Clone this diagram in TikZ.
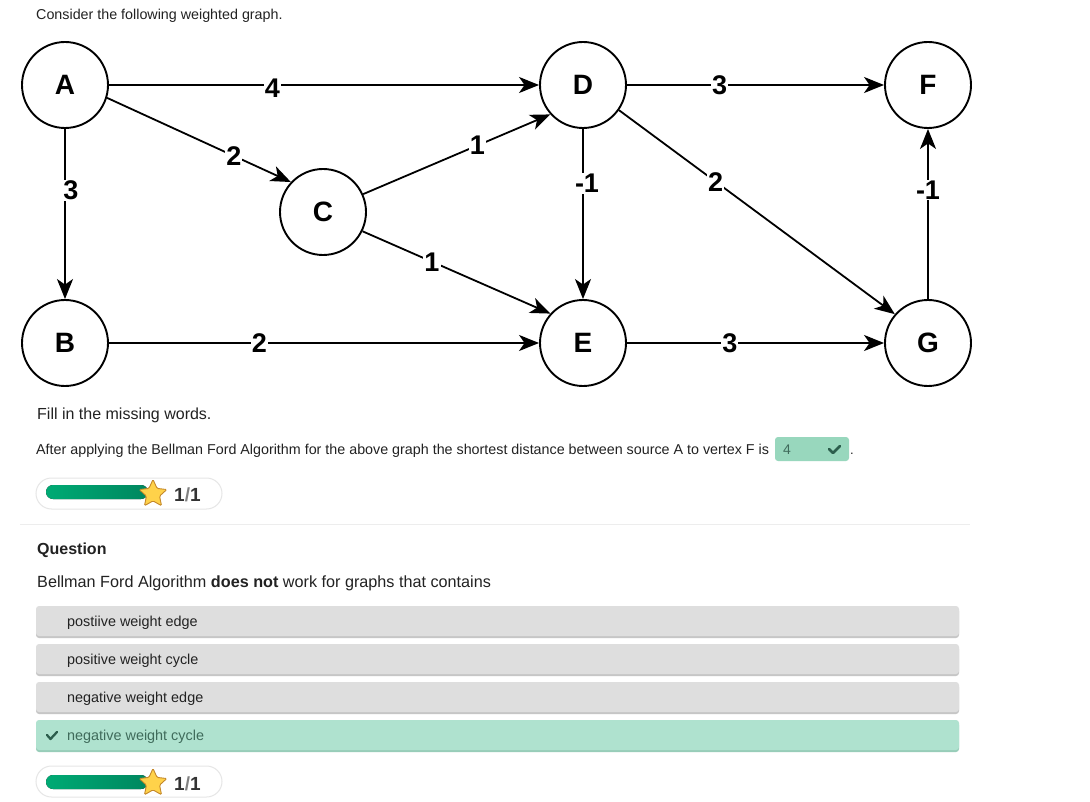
\documentclass[tikz,border=0pt]{standalone}
\usepackage{fontspec}
\setmainfont{Liberation Sans}
\usetikzlibrary{arrows.meta,shapes.geometric}
\definecolor{txt}{HTML}{222222}
\definecolor{ansbg}{HTML}{98D7BD}
\definecolor{ansfg}{HTML}{3F6B5B}
\definecolor{optbg}{HTML}{DEDEDE}
\definecolor{optsh}{HTML}{C6C6C6}
\definecolor{rightbg}{HTML}{AFE2CF}
\definecolor{rightsh}{HTML}{98CDB9}
\definecolor{checkc}{HTML}{2C5E4D}
\definecolor{barL}{HTML}{00AA74}
\definecolor{barR}{HTML}{00875F}
\definecolor{starfill}{HTML}{FFD24A}
\definecolor{staredge}{HTML}{C4882A}
\definecolor{pillline}{HTML}{E6E6E6}
\definecolor{sepline}{HTML}{EDEDED}
\tikzset{
  vertex/.style={circle, draw, line width=1.9pt, minimum size=86pt, inner sep=0pt,
    font=\fontsize{28}{32}\selectfont\bfseries},
  edge/.style={line width=1.8pt, -{Stealth[length=20pt,width=16pt,inset=5.5pt]}},
  wlabel/.style={fill=white, inner sep=1pt, font=\fontsize{27}{30}\selectfont\bfseries},
  plain/.style={anchor=base west, inner sep=0pt, text=txt},
  optbox/.style={fill=optbg, rounded corners=3pt},
  opttext/.style={anchor=base west, inner sep=0pt, text=txt, font=\fontsize{14.4}{17}\selectfont},
  pill/.style={draw=pillline, line width=1pt, fill=white, rounded corners=15.5pt},
  starmark/.style={star, star points=5, star point ratio=2.1, fill=starfill, draw=staredge,
    line width=0.9pt, minimum size=29pt, inner sep=0pt, rounded corners=1.2pt},
  checkmk/.style={line width=2.6pt, line cap=round, line join=round}
}
\begin{document}
\begin{tikzpicture}[x=1pt,y=-1pt]
\useasboundingbox (0,0) rectangle (1090,802);
\fill[white] (0,0) rectangle (1090,802);

% heading
\node[plain, font=\fontsize{14.3}{16}\selectfont] (head) at (36,20) {Consider the following weighted graph.};

% vertices
\node[vertex] (A) at (65,85) {A};
\node[vertex] (B) at (65,343) {B};
\node[vertex] (C) at (323,212) {C};
\node[vertex] (D) at (583,85) {D};
\node[vertex] (E) at (583,343) {E};
\node[vertex] (F) at (928,85) {F};
\node[vertex] (G) at (928,343) {G};

% weighted edges
\draw[edge] (A) -- node[wlabel, pos=0.38, yshift=-3pt] {4} (D);
\draw[edge] (A.-17) -- node[wlabel, pos=0.69] {2} (C.137);
\draw[edge] (A) -- node[wlabel, pos=0.36, xshift=6pt] {3} (B);
\draw[edge] (C.24) -- node[wlabel, pos=0.61] {1} (D.222);
\draw[edge] (C.-26) -- node[wlabel, pos=0.37] {1} (E.138);
\draw[edge] (D) -- node[wlabel, pos=0.32, xshift=4pt] {-1} (E);
\draw[edge] (D) -- node[wlabel, pos=0.36] {3} (F);
\draw[edge] (D.-35) -- node[wlabel, pos=0.35] {2} (G.139);
\draw[edge] (G) -- node[wlabel, pos=0.64] {-1} (F);
\draw[edge] (B) -- node[wlabel, pos=0.35] {2} (E);
\draw[edge] (E) -- node[wlabel, pos=0.40] {3} (G);

% fill-in question
\node[plain, font=\fontsize{16}{18}\selectfont] (fill) at (37,419) {Fill in the missing words.};
\node[plain, font=\fontsize{14.3}{16}\selectfont] (after) at (36,454)
  {After applying the Bellman Ford Algorithm for the above graph the shortest distance between source A to vertex F is};
\fill[ansbg, rounded corners=3pt] (775,437) rectangle (849,461);
\node[plain, text=ansfg, font=\fontsize{14}{16}\selectfont] (ans) at (783,454) {4};
\draw[checkmk, draw=checkc] (829,449) -- (833,453) -- (840,446);
\node[plain, font=\fontsize{13}{15}\selectfont] (dot) at (850,454) {.};

% score pill 1
\draw[pill] (36,478) rectangle (222,509);
\fill[left color=barL, right color=barR, rounded corners=7pt] (46,485) rectangle (148,499);
\node[starmark] (s1) at (153,494) {};
\node[plain, font=\fontsize{19}{21}\selectfont\bfseries, text=black!80] (sc1) at (174,501) {1\textcolor{black!50}{/}1};

\draw[sepline, line width=1pt] (20,524) -- (970,524);

% multiple choice question
\node[plain, font=\fontsize{16}{18}\selectfont\bfseries] (qh) at (37,554) {Question};
\node[plain, font=\fontsize{16.2}{18}\selectfont] (qt) at (37,587) {Bellman Ford Algorithm \textbf{does not} work for graphs that contains};

\fill[optsh, rounded corners=3pt] (36,608) rectangle (959,638);
\fill[optbox] (36,606) rectangle (959,636);
\node[opttext] (o1) at (67,626) {postiive weight edge};

\fill[optsh, rounded corners=3pt] (36,646) rectangle (959,676);
\fill[optbox] (36,644) rectangle (959,674);
\node[opttext] (o2) at (67,664) {positive weight cycle};

\fill[optsh, rounded corners=3pt] (36,684) rectangle (959,714);
\fill[optbox] (36,682) rectangle (959,712);
\node[opttext] (o3) at (67,702) {negative weight edge};

\fill[rightsh, rounded corners=3pt] (36,722) rectangle (959,752);
\fill[rightbg, rounded corners=3pt] (36,720) rectangle (959,750);
\draw[checkmk, draw=checkc, line width=2.3pt] (47,735) -- (50.5,739) -- (57,732);
\node[opttext, text=ansfg] (o4) at (67,740) {negative weight cycle};

% score pill 2
\draw[pill] (36,766) rectangle (222,797);
\fill[left color=barL, right color=barR, rounded corners=7pt] (46,775) rectangle (148,789);
\node[starmark] (s2) at (153,783) {};
\node[plain, font=\fontsize{19}{21}\selectfont\bfseries, text=black!80] (sc2) at (174,790) {1\textcolor{black!50}{/}1};
\end{tikzpicture}
\end{document}
